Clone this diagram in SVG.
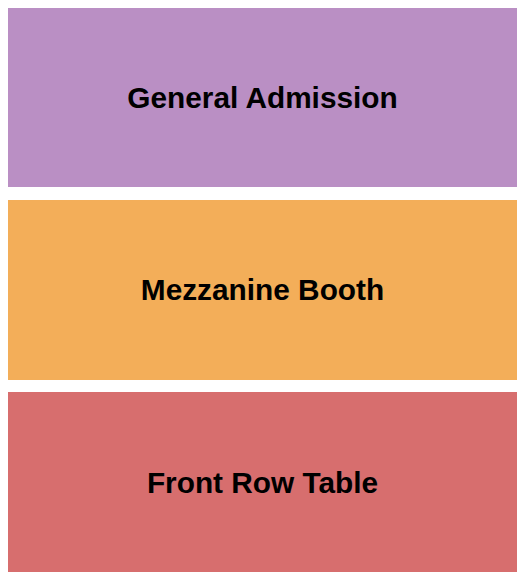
<svg xmlns="http://www.w3.org/2000/svg" width="525" height="580" viewBox="0 0 525 580">
<style>
.lbl{font-family:"Liberation Sans",Arial,sans-serif;font-weight:bold;font-size:29.8px;text-anchor:middle;fill:#000}
</style>
<rect width="525" height="580" fill="#fff"/>
<g id="general-admission">
<rect x="8" y="8" width="509" height="179" fill="#BA8FC4"/>
<text class="lbl" x="262.5" y="108">General Admission</text>
</g>
<g id="mezzanine-booth">
<rect x="8" y="200" width="509" height="180" fill="#F3AE59"/>
<text class="lbl" x="262.5" y="300">Mezzanine Booth</text>
</g>
<g id="front-row-table">
<rect x="8" y="392" width="509" height="180" fill="#D76E6E"/>
<text class="lbl" x="262.5" y="492.5">Front Row Table</text>
</g>
<g id="connectors"/>
</svg>
